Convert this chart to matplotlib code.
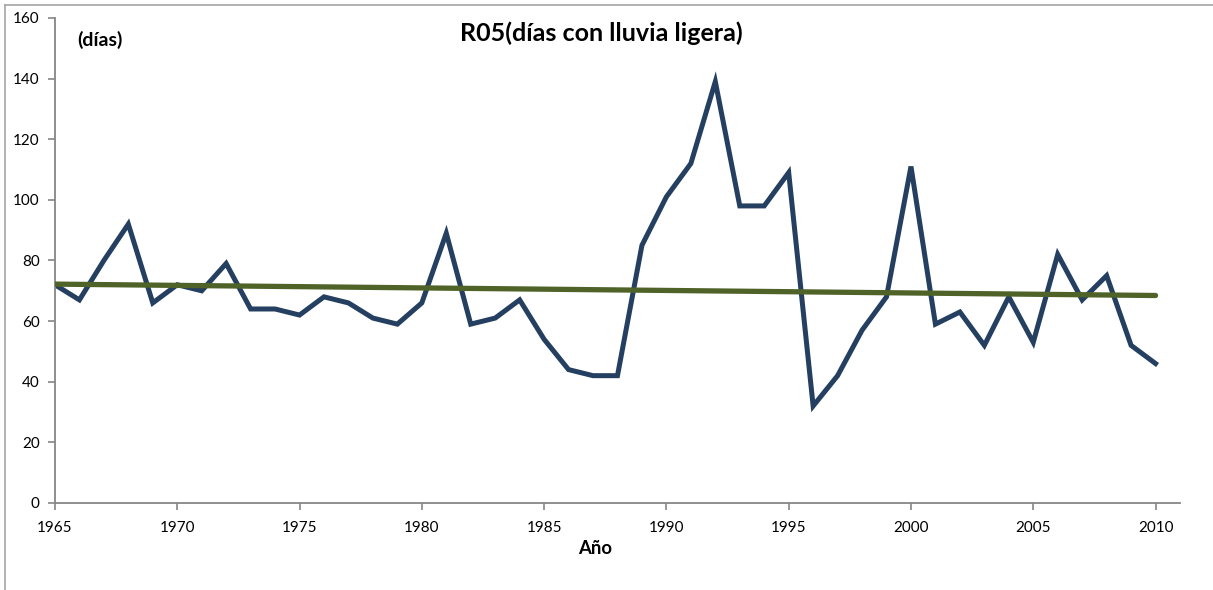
import numpy as np
import matplotlib.pyplot as plt
from matplotlib.lines import Line2D

plt.rcParams['font.family'] = ['Lato', 'DejaVu Sans']

# datos
anios = list(range(1965, 2011))
r05 = [72, 67, 80, 92, 66, 72, 70, 79, 64, 64,
       62, 68, 66, 61, 59, 66, 89, 59, 61, 67,
       54, 44, 42, 42, 85, 101, 112, 139, 98, 98,
       109, 32, 42, 57, 68, 111, 59, 63, 52, 68,
       53, 82, 67, 75, 52, 46]
ticks_x = [1965, 1970, 1975, 1980, 1985, 1990, 1995, 2000, 2005, 2010]
ticks_y = [0, 20, 40, 60, 80, 100, 120, 140, 160]

fig = plt.figure(figsize=(12.13, 5.90), dpi=100)
ax = fig.add_axes([0.0453, 0.1475, 0.9275, 0.822])

ax.plot(anios, r05, color='#243F60', lw=3.6, solid_joinstyle='miter', zorder=2)

# linea de tendencia lineal
m, b = np.polyfit(anios, r05, 1)
x_t = np.array([anios[0], anios[-1]])
ax.plot(x_t, m * x_t + b, color='#4F6228', lw=3.8, solid_capstyle='round', zorder=3)

ax.set_xlim(1965, 2011)
ax.set_ylim(0, 160)
ax.set_xticks(ticks_x)
ax.set_yticks(ticks_y)
ax.tick_params(direction='out', length=5, width=1.2, color='#868686', labelsize=11)
ax.tick_params(axis='x', pad=8)
ax.tick_params(axis='y', pad=6)
for s in ['top', 'right']:
    ax.spines[s].set_visible(False)
for s in ['left', 'bottom']:
    ax.spines[s].set_color('#868686')
    ax.spines[s].set_linewidth(1.3)

fig.text(0.496, 0.944, 'R05(días con lluvia ligera)', ha='center', va='center',
         fontsize=18, fontweight='bold')
fig.text(0.064, 0.932, '(días)', ha='left', va='center', fontsize=14, fontweight='bold')
fig.text(0.491, 0.071, 'Año', ha='center', va='center', fontsize=13.3, fontweight='bold')

# borde del area del grafico
fig.add_artist(Line2D([0.0045, 0.0045], [0, 0.992], transform=fig.transFigure, color='#A6A6A6', lw=1.2))
fig.add_artist(Line2D([0.0045, 1], [0.992, 0.992], transform=fig.transFigure, color='#A6A6A6', lw=1.2))

fig.savefig('out.png', dpi=100)
